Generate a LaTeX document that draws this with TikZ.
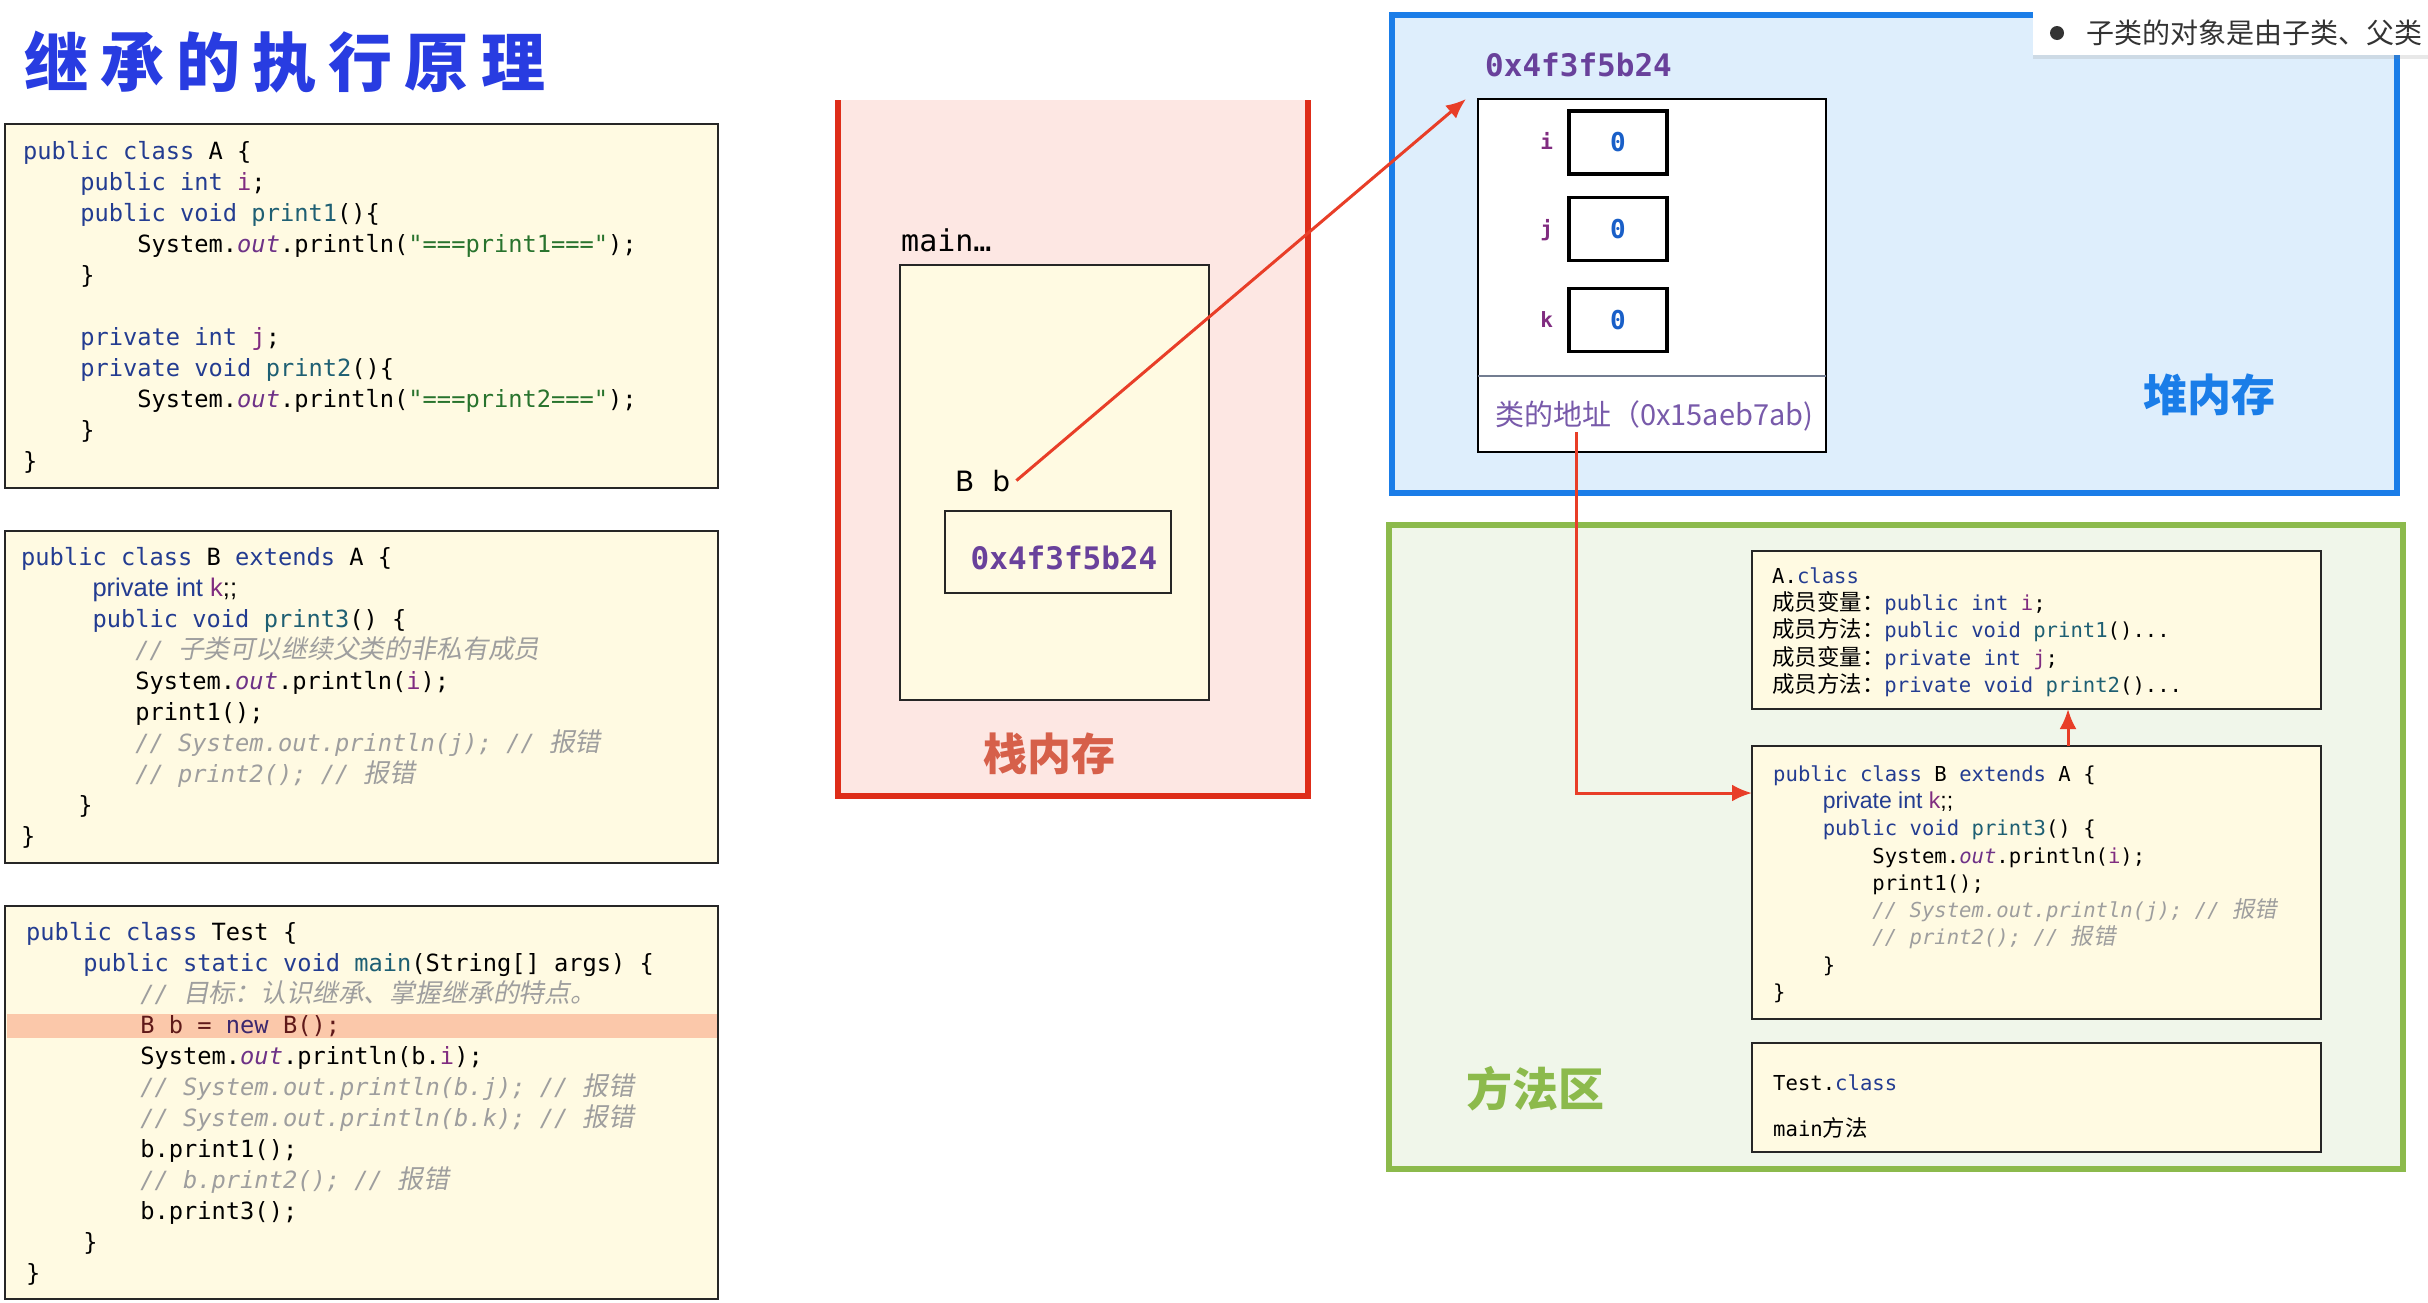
\documentclass[tikz,border=0pt]{standalone}
\usepackage{fontspec}
\usetikzlibrary{arrows.meta,shadows}

\setmainfont{DejaVu Sans}
\setmonofont{DejaVu Sans Mono}
\newfontfamily\cjk{Noto Sans CJK SC}
\newfontfamily\zhfont{Noto Sans CJK SC}[Scale=1.09, AutoFakeSlant=0.2]
\newfontfamily\arialfont{Liberation Sans}

% palette
\definecolor{cream}{RGB}{255,250,226}
\definecolor{kwc}{RGB}{35,60,145}
\definecolor{fnc}{RGB}{30,95,115}
\definecolor{fdc}{RGB}{128,44,128}
\definecolor{outc}{RGB}{110,50,135}
\definecolor{strc}{RGB}{40,115,45}
\definecolor{cmc}{RGB}{158,158,158}
\definecolor{locc}{RGB}{95,25,25}
\definecolor{newc}{RGB}{60,40,110}
\definecolor{hlc}{RGB}{251,200,170}
\definecolor{addrc}{RGB}{105,65,155}
\definecolor{zeroc}{RGB}{25,95,200}
\definecolor{redln}{RGB}{232,62,40}
\definecolor{stackfill}{RGB}{253,231,227}
\definecolor{stackedge}{RGB}{222,45,25}
\definecolor{heapfill}{RGB}{222,238,252}
\definecolor{heapedge}{RGB}{26,125,232}
\definecolor{methfill}{RGB}{240,246,234}
\definecolor{methedge}{RGB}{140,186,76}
\definecolor{titlec}{RGB}{40,60,225}
\definecolor{stackc}{RGB}{214,96,74}
\definecolor{clsaddr}{RGB}{120,90,170}
\definecolor{tipc}{RGB}{51,51,51}

% syntax colouring helpers
\newcommand\ckw[1]{\textcolor{kwc}{#1}}
\newcommand\cfn[1]{\textcolor{fnc}{#1}}
\newcommand\cfd[1]{\textcolor{fdc}{#1}}
\newcommand\cout{\textcolor{outc}{\itshape out}}
\newcommand\cstr[1]{\textcolor{strc}{#1}}
\newcommand\ccm[1]{\textcolor{cmc}{\itshape #1}}
\newcommand\zh[1]{{\zhfont #1}}
\newcommand\ind[1]{\hspace*{#1\fontcharwd\font`0}}
\newcommand\codefont{\fontsize{23.7}{31}\selectfont\ttfamily}
\newcommand\smallcode{\fontsize{20.6}{27.25}\selectfont\ttfamily}

\begin{document}
\begin{tikzpicture}[x=1pt,y=-1pt,
  panel/.style={anchor=north west, inner sep=0pt, outer sep=0pt},
  codebox/.style={panel, draw=black!85, line width=2pt, fill=cream},
  codetext/.style={anchor=north west, inner sep=0pt, align=left, font=\codefont},
  smalltext/.style={anchor=north west, inner sep=0pt, align=left, font=\smallcode},
  fieldbox/.style={draw=black, line width=3.5pt, fill=white, minimum width=98pt,
    minimum height=63pt, inner sep=0pt, text=zeroc,
    font={\fontsize{26}{30}\selectfont\ttfamily\bfseries}},
  fieldlbl/.style={anchor=base east, inner sep=0pt, text=fdc,
    font={\fontsize{21}{24}\selectfont\ttfamily\bfseries}},
  addr/.style={inner sep=0pt, text=addrc,
    font={\fontsize{31}{34}\selectfont\ttfamily\bfseries}},
  arealbl/.style={inner sep=0pt, font={\fontsize{44}{48}\selectfont\cjk\bfseries}},
  ptr/.style={draw=redln, line width=3pt, -{Latex[length=20pt,width=17pt]}}
]
\useasboundingbox (0,0) rectangle (2428,1302);
\fill[white] (0,0) rectangle (2428,1302);

% ---------- title ----------
\node[anchor=base west, inner sep=0pt, text=titlec,
  font={\fontsize{64}{70}\selectfont\cjk\bfseries\addfontfeatures{LetterSpace=19}}]
  (title) at (24,86) {继承的执行原理};

% ---------- class A source ----------
\node[codebox, minimum width=713pt, minimum height=364pt] (srcA) at (5,124) {};
\node[codetext] (srcAtxt) at (23,137.3) {\strut\ckw{public class} A \{\\
\ind{4}\ckw{public int} \cfd{i};\\
\ind{4}\ckw{public void} \cfn{print1}()\{\\
\ind{8}System.\cout.println(\cstr{"===print1==="});\\
\ind{4}\}\\
\mbox{}\\
\ind{4}\ckw{private int} \cfd{j};\\
\ind{4}\ckw{private void} \cfn{print2}()\{\\
\ind{8}System.\cout.println(\cstr{"===print2==="});\\
\ind{4}\}\\
\}};

% ---------- class B source ----------
\node[codebox, minimum width=713pt, minimum height=332pt] (srcB) at (5,531) {};
\node[codetext] (srcBtxt) at (21,543.3) {\strut\ckw{public class} B \ckw{extends} A \{\\
\ind{5}{\arialfont\fontsize{25.5}{31}\selectfont\ckw{private int} \cfd{k};;}\\
\ind{5}\ckw{public void} \cfn{print3}() \{\\
\ind{8}\ccm{// \zh{子类可以继续父类的非私有成员}}\\
\ind{8}System.\cout.println(\cfd{i});\\
\ind{8}print1();\\
\ind{8}\ccm{// System.out.println(j); // \zh{报错}}\\
\ind{8}\ccm{// print2(); // \zh{报错}}\\
\ind{4}\}\\
\}};

% ---------- Test source ----------
\node[codebox, minimum width=713pt, minimum height=393pt] (srcT) at (5,906) {};
\fill[hlc] (6.5,1014) rectangle (717,1038);
\node[codetext] (srcTtxt) at (26,918.3) {\strut\ckw{public class} Test \{\\
\ind{4}\ckw{public static void} \cfn{main}(String[] args) \{\\
\ind{8}\ccm{// \zh{目标：认识继承、掌握继承的特点。}}\\
\ind{8}\textcolor{locc}{B b =} \textcolor{newc}{new} \textcolor{locc}{B();}\\
\ind{8}System.\cout.println(b.\cfd{i});\\
\ind{8}\ccm{// System.out.println(b.j); // \zh{报错}}\\
\ind{8}\ccm{// System.out.println(b.k); // \zh{报错}}\\
\ind{8}b.print1();\\
\ind{8}\ccm{// b.print2(); // \zh{报错}}\\
\ind{8}b.print3();\\
\ind{4}\}\\
\}};

% ---------- stack ----------
\fill[stackfill] (838,100) rectangle (1308,796);
\draw[stackedge, line width=6pt, line join=miter] (838,100) -- (838,796) -- (1308,796) -- (1308,100);
\node[anchor=base west, inner sep=0pt, font={\fontsize{30}{34}\selectfont\ttfamily}]
  (mainlbl) at (901,251) {main…};
\node[codebox, minimum width=309pt, minimum height=435pt] (mainfr) at (900,265) {};
\node[anchor=base west, inner sep=0pt, font={\fontsize{28}{32}\selectfont}]
  (bvar) at (955,491) {B\hspace{18pt}b};
\node[codebox, minimum width=226pt, minimum height=82pt] (slot) at (945,511) {};
\node[addr, anchor=base] (slotval) at (1064,569) {0x4f3f5b24};
\node[arealbl, text=stackc] (stacklbl) at (1049,754) {栈内存};

% ---------- heap ----------
\node[panel, draw=heapedge, fill=heapfill, line width=6pt,
  minimum width=1005pt, minimum height=478pt] (heap) at (1392,15) {};
\node[addr, anchor=base west] (objaddr) at (1485,76) {0x4f3f5b24};
\node[panel, draw=black, fill=white, line width=2pt,
  minimum width=348pt, minimum height=353pt] (obj) at (1478,99) {};
\draw[draw={rgb,255:red,115;green,125;blue,145}, line width=1.5pt]
  (obj.west |- 0,376) -- (obj.east |- 0,376);
\node[fieldbox] (fi) at (1618,142.5) {0};
\node[fieldbox] (fj) at (1618,229) {0};
\node[fieldbox] (fk) at (1618,320) {0};
\node[fieldlbl] (li) at ([xshift=-14pt,yshift=-7pt]fi.west) {i};
\node[fieldlbl] (lj) at ([xshift=-14pt,yshift=-7pt]fj.west) {j};
\node[fieldlbl] (lk) at ([xshift=-14pt,yshift=-7pt]fk.west) {k};
\node[anchor=base west, inner sep=0pt, text=clsaddr,
  font={\fontsize{29}{32}\selectfont\cjk}] (clsaddr) at (1495,425) {类的地址（0x15aeb7ab)};
\node[arealbl, text=heapedge] (heaplbl) at (2209,395) {堆内存};

% ---------- method area ----------
\node[panel, draw=methedge, fill=methfill, line width=6pt,
  minimum width=1014pt, minimum height=644pt] (meth) at (1389,525) {};
\node[codebox, minimum width=569pt, minimum height=158pt] (acls) at (1752,551) {};
\node[smalltext] (aclstxt) at (1772,564) {\strut A.\ckw{class}\\
\zh{成员变量：}\ckw{public int} \cfd{i};\\
\zh{成员方法：}\ckw{public void} \cfn{print1}()...\\
\zh{成员变量：}\ckw{private int} \cfd{j};\\
\zh{成员方法：}\ckw{private void} \cfn{print2}()...};
\node[codebox, minimum width=569pt, minimum height=273pt] (bcls) at (1752,746) {};
\node[smalltext] (bclstxt) at (1773,762) {\strut\ckw{public class} B \ckw{extends} A \{\\
\ind{4}{\arialfont\fontsize{23}{27.25}\selectfont\ckw{private int} \cfd{k};;}\\
\ind{4}\ckw{public void} \cfn{print3}() \{\\
\ind{8}System.\cout.println(\cfd{i});\\
\ind{8}print1();\\
\ind{8}\ccm{// System.out.println(j); // \zh{报错}}\\
\ind{8}\ccm{// print2(); // \zh{报错}}\\
\ind{4}\}\\
\}};
\node[codebox, minimum width=569pt, minimum height=109pt] (tcls) at (1752,1043) {};
\node[anchor=north west, inner sep=0pt, align=left,
  font={\fontsize{20.6}{46}\selectfont\ttfamily}] (tclstxt) at (1773,1057.8)
  {\strut Test.\ckw{class}\\ main\zh{方法}};
\node[arealbl, text=methedge, font={\fontsize{46}{50}\selectfont\cjk\bfseries}]
  (methlbl) at (1535,1089) {方法区};

% ---------- references ----------
\coordinate (objin) at ([xshift=-12pt]obj.north west);
\coordinate (clsref) at (1576,432);
\draw[ptr] ([xshift=6pt]bvar.east) -- (objin);
\draw[ptr] (clsref) |- (bcls.west |- 0,793);
\draw[ptr] (bcls.north -| 2068,0) -- (acls.south -| 2068,0);

% ---------- hint popup ----------
\node[panel, fill=white, minimum width=420pt, minimum height=63pt,
  drop shadow={opacity=0.18, shadow xshift=0pt, shadow yshift=-4pt}] (tip) at (2033,-8) {};
\node[circle, fill=tipc, inner sep=0pt, minimum size=14pt] (bullet) at (2057,33) {};
\node[anchor=west, inner sep=0pt, text=tipc, font={\fontsize{28}{30}\selectfont\cjk}]
  (tiptxt) at (2086,33) {子类的对象是由子类、父类};
\end{tikzpicture}
\end{document}
